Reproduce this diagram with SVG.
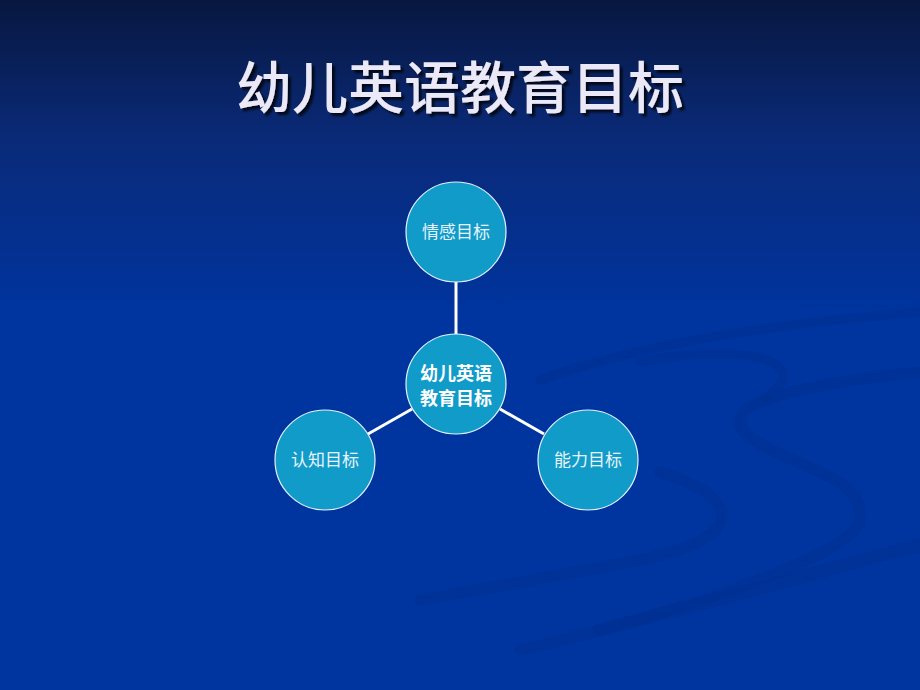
<svg xmlns="http://www.w3.org/2000/svg" width="920" height="690" viewBox="0 0 920 690">
<defs>
<linearGradient id="bg" x1="0" y1="0" x2="0" y2="1">
<stop offset="0" stop-color="#07173f"/>
<stop offset="0.2" stop-color="#0a2a78"/>
<stop offset="0.45" stop-color="#00349e"/>
<stop offset="1" stop-color="#00359f"/>
</linearGradient>
<filter id="sh" x="-10%" y="-30%" width="120%" height="160%">
<feDropShadow dx="3" dy="3" stdDeviation="1.2" flood-color="#000000" flood-opacity="0.75"/>
</filter>
<style>
.node{fill:#119bc9;stroke:#e6f2fa;stroke-width:1.2}
.lbl{font-family:"Noto Sans CJK SC","Noto Sans",sans-serif;font-size:17px;fill:#e8f4fb;text-anchor:middle}
.clbl{font-family:"Noto Sans CJK SC","Noto Sans",sans-serif;font-size:18px;font-weight:bold;fill:#ffffff;text-anchor:middle}
.conn line{stroke:#ffffff;stroke-width:3}
.swirl{fill:none;stroke:#00308f;stroke-linecap:round;opacity:0.55}
</style>
</defs>
<rect width="920" height="690" fill="url(#bg)"/>
<g id="decor">
<path class="swirl" stroke-width="9" d="M540,380 C640,345 760,325 920,312"/>
<path class="swirl" stroke-width="11" d="M920,372 C820,382 730,400 740,425 C755,460 870,470 860,520 C850,560 650,620 520,650"/>
<path class="swirl" stroke-width="9" d="M640,362 C740,342 820,360 765,398"/>
<path class="swirl" stroke-width="11" d="M660,472 C750,500 740,540 640,560 C560,575 480,590 420,600"/>
<path class="swirl" stroke-width="13" d="M920,545 C840,565 760,590 600,630"/>
</g>
<g id="title">
<text x="460" y="108" font-family="Noto Sans CJK SC,sans-serif" font-size="56" font-weight="500" text-anchor="middle" fill="#ebe9f7" filter="url(#sh)">幼儿英语教育目标</text>
</g>
<g id="connectors" class="conn">
<line x1="456" y1="282" x2="456" y2="334"/>
<line x1="412" y1="409" x2="368" y2="434"/>
<line x1="500" y1="409" x2="544" y2="434"/>
</g>
<g id="node-top">
<circle class="node" cx="456" cy="232" r="50"/>
<text class="lbl" x="456" y="238">情感目标</text>
</g>
<g id="node-center">
<circle class="node" cx="456" cy="384" r="50"/>
<text class="clbl" x="456" y="380">幼儿英语</text>
<text class="clbl" x="456" y="405">教育目标</text>
</g>
<g id="node-left">
<circle class="node" cx="325" cy="460" r="50"/>
<text class="lbl" x="325" y="466">认知目标</text>
</g>
<g id="node-right">
<circle class="node" cx="588" cy="460" r="50"/>
<text class="lbl" x="588" y="466">能力目标</text>
</g>
</svg>
